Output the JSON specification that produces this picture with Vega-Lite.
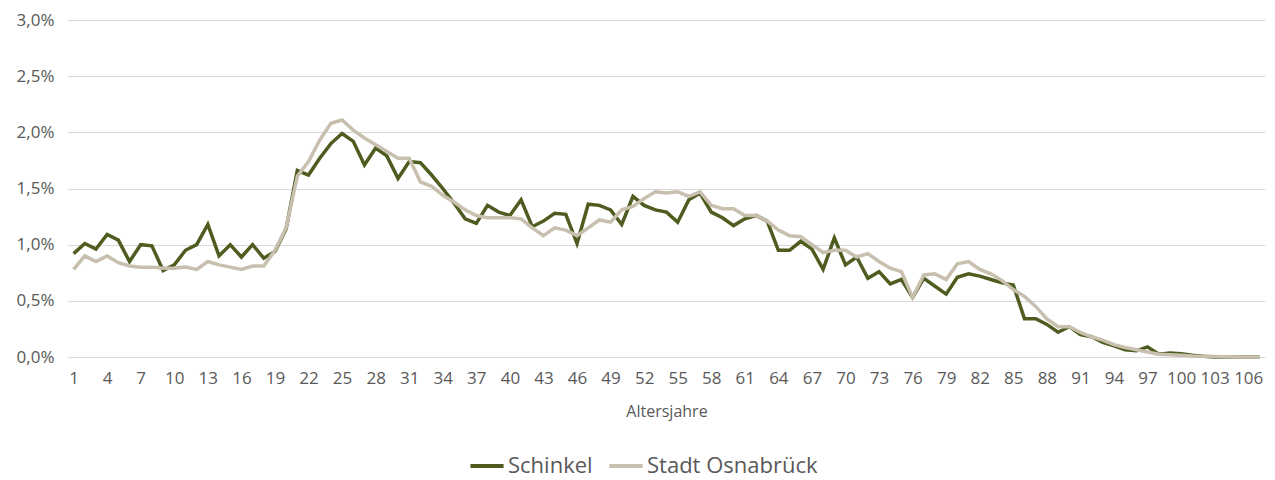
{
  "$schema": "https://vega.github.io/schema/vega-lite/v6.json",
  "autosize": "none",
  "width": 1197,
  "height": 337,
  "padding": {"left": 68, "top": 20, "right": 10, "bottom": 123},
  "background": "white",
  "config": {
    "font": "Open Sans",
    "view": {"stroke": null}
  },
  "data": {
    "values": [
      {"age": 1, "Schinkel": 0.92, "Stadt Osnabrück": 0.78},
      {"age": 2, "Schinkel": 1.01, "Stadt Osnabrück": 0.90},
      {"age": 3, "Schinkel": 0.96, "Stadt Osnabrück": 0.85},
      {"age": 4, "Schinkel": 1.09, "Stadt Osnabrück": 0.90},
      {"age": 5, "Schinkel": 1.04, "Stadt Osnabrück": 0.84},
      {"age": 6, "Schinkel": 0.85, "Stadt Osnabrück": 0.81},
      {"age": 7, "Schinkel": 1.00, "Stadt Osnabrück": 0.80},
      {"age": 8, "Schinkel": 0.99, "Stadt Osnabrück": 0.80},
      {"age": 9, "Schinkel": 0.77, "Stadt Osnabrück": 0.79},
      {"age": 10, "Schinkel": 0.82, "Stadt Osnabrück": 0.79},
      {"age": 11, "Schinkel": 0.95, "Stadt Osnabrück": 0.80},
      {"age": 12, "Schinkel": 1.00, "Stadt Osnabrück": 0.78},
      {"age": 13, "Schinkel": 1.18, "Stadt Osnabrück": 0.85},
      {"age": 14, "Schinkel": 0.90, "Stadt Osnabrück": 0.82},
      {"age": 15, "Schinkel": 1.00, "Stadt Osnabrück": 0.80},
      {"age": 16, "Schinkel": 0.89, "Stadt Osnabrück": 0.78},
      {"age": 17, "Schinkel": 1.00, "Stadt Osnabrück": 0.81},
      {"age": 18, "Schinkel": 0.88, "Stadt Osnabrück": 0.81},
      {"age": 19, "Schinkel": 0.94, "Stadt Osnabrück": 0.95},
      {"age": 20, "Schinkel": 1.14, "Stadt Osnabrück": 1.15},
      {"age": 21, "Schinkel": 1.66, "Stadt Osnabrück": 1.61},
      {"age": 22, "Schinkel": 1.62, "Stadt Osnabrück": 1.74},
      {"age": 23, "Schinkel": 1.77, "Stadt Osnabrück": 1.93},
      {"age": 24, "Schinkel": 1.90, "Stadt Osnabrück": 2.08},
      {"age": 25, "Schinkel": 1.99, "Stadt Osnabrück": 2.11},
      {"age": 26, "Schinkel": 1.92, "Stadt Osnabrück": 2.02},
      {"age": 27, "Schinkel": 1.71, "Stadt Osnabrück": 1.95},
      {"age": 28, "Schinkel": 1.86, "Stadt Osnabrück": 1.89},
      {"age": 29, "Schinkel": 1.79, "Stadt Osnabrück": 1.83},
      {"age": 30, "Schinkel": 1.59, "Stadt Osnabrück": 1.77},
      {"age": 31, "Schinkel": 1.74, "Stadt Osnabrück": 1.77},
      {"age": 32, "Schinkel": 1.73, "Stadt Osnabrück": 1.56},
      {"age": 33, "Schinkel": 1.62, "Stadt Osnabrück": 1.52},
      {"age": 34, "Schinkel": 1.50, "Stadt Osnabrück": 1.44},
      {"age": 35, "Schinkel": 1.37, "Stadt Osnabrück": 1.38},
      {"age": 36, "Schinkel": 1.23, "Stadt Osnabrück": 1.31},
      {"age": 37, "Schinkel": 1.19, "Stadt Osnabrück": 1.26},
      {"age": 38, "Schinkel": 1.35, "Stadt Osnabrück": 1.24},
      {"age": 39, "Schinkel": 1.29, "Stadt Osnabrück": 1.24},
      {"age": 40, "Schinkel": 1.26, "Stadt Osnabrück": 1.24},
      {"age": 41, "Schinkel": 1.40, "Stadt Osnabrück": 1.23},
      {"age": 42, "Schinkel": 1.16, "Stadt Osnabrück": 1.15},
      {"age": 43, "Schinkel": 1.21, "Stadt Osnabrück": 1.08},
      {"age": 44, "Schinkel": 1.28, "Stadt Osnabrück": 1.15},
      {"age": 45, "Schinkel": 1.27, "Stadt Osnabrück": 1.13},
      {"age": 46, "Schinkel": 1.01, "Stadt Osnabrück": 1.08},
      {"age": 47, "Schinkel": 1.36, "Stadt Osnabrück": 1.15},
      {"age": 48, "Schinkel": 1.35, "Stadt Osnabrück": 1.22},
      {"age": 49, "Schinkel": 1.31, "Stadt Osnabrück": 1.20},
      {"age": 50, "Schinkel": 1.18, "Stadt Osnabrück": 1.31},
      {"age": 51, "Schinkel": 1.43, "Stadt Osnabrück": 1.34},
      {"age": 52, "Schinkel": 1.35, "Stadt Osnabrück": 1.41},
      {"age": 53, "Schinkel": 1.31, "Stadt Osnabrück": 1.47},
      {"age": 54, "Schinkel": 1.29, "Stadt Osnabrück": 1.46},
      {"age": 55, "Schinkel": 1.20, "Stadt Osnabrück": 1.47},
      {"age": 56, "Schinkel": 1.40, "Stadt Osnabrück": 1.43},
      {"age": 57, "Schinkel": 1.46, "Stadt Osnabrück": 1.47},
      {"age": 58, "Schinkel": 1.29, "Stadt Osnabrück": 1.35},
      {"age": 59, "Schinkel": 1.24, "Stadt Osnabrück": 1.32},
      {"age": 60, "Schinkel": 1.17, "Stadt Osnabrück": 1.32},
      {"age": 61, "Schinkel": 1.23, "Stadt Osnabrück": 1.26},
      {"age": 62, "Schinkel": 1.26, "Stadt Osnabrück": 1.26},
      {"age": 63, "Schinkel": 1.21, "Stadt Osnabrück": 1.21},
      {"age": 64, "Schinkel": 0.95, "Stadt Osnabrück": 1.13},
      {"age": 65, "Schinkel": 0.95, "Stadt Osnabrück": 1.08},
      {"age": 66, "Schinkel": 1.03, "Stadt Osnabrück": 1.07},
      {"age": 67, "Schinkel": 0.96, "Stadt Osnabrück": 1.00},
      {"age": 68, "Schinkel": 0.78, "Stadt Osnabrück": 0.93},
      {"age": 69, "Schinkel": 1.06, "Stadt Osnabrück": 0.95},
      {"age": 70, "Schinkel": 0.82, "Stadt Osnabrück": 0.95},
      {"age": 71, "Schinkel": 0.89, "Stadt Osnabrück": 0.89},
      {"age": 72, "Schinkel": 0.70, "Stadt Osnabrück": 0.92},
      {"age": 73, "Schinkel": 0.76, "Stadt Osnabrück": 0.85},
      {"age": 74, "Schinkel": 0.65, "Stadt Osnabrück": 0.79},
      {"age": 75, "Schinkel": 0.69, "Stadt Osnabrück": 0.76},
      {"age": 76, "Schinkel": 0.53, "Stadt Osnabrück": 0.53},
      {"age": 77, "Schinkel": 0.70, "Stadt Osnabrück": 0.73},
      {"age": 78, "Schinkel": 0.63, "Stadt Osnabrück": 0.74},
      {"age": 79, "Schinkel": 0.56, "Stadt Osnabrück": 0.69},
      {"age": 80, "Schinkel": 0.71, "Stadt Osnabrück": 0.83},
      {"age": 81, "Schinkel": 0.74, "Stadt Osnabrück": 0.85},
      {"age": 82, "Schinkel": 0.72, "Stadt Osnabrück": 0.78},
      {"age": 83, "Schinkel": 0.69, "Stadt Osnabrück": 0.74},
      {"age": 84, "Schinkel": 0.66, "Stadt Osnabrück": 0.68},
      {"age": 85, "Schinkel": 0.64, "Stadt Osnabrück": 0.60},
      {"age": 86, "Schinkel": 0.34, "Stadt Osnabrück": 0.54},
      {"age": 87, "Schinkel": 0.34, "Stadt Osnabrück": 0.45},
      {"age": 88, "Schinkel": 0.29, "Stadt Osnabrück": 0.34},
      {"age": 89, "Schinkel": 0.22, "Stadt Osnabrück": 0.27},
      {"age": 90, "Schinkel": 0.27, "Stadt Osnabrück": 0.27},
      {"age": 91, "Schinkel": 0.20, "Stadt Osnabrück": 0.22},
      {"age": 92, "Schinkel": 0.18, "Stadt Osnabrück": 0.18},
      {"age": 93, "Schinkel": 0.13, "Stadt Osnabrück": 0.15},
      {"age": 94, "Schinkel": 0.10, "Stadt Osnabrück": 0.11},
      {"age": 95, "Schinkel": 0.065, "Stadt Osnabrück": 0.085},
      {"age": 96, "Schinkel": 0.055, "Stadt Osnabrück": 0.065},
      {"age": 97, "Schinkel": 0.09, "Stadt Osnabrück": 0.045},
      {"age": 98, "Schinkel": 0.025, "Stadt Osnabrück": 0.025},
      {"age": 99, "Schinkel": 0.035, "Stadt Osnabrück": 0.02},
      {"age": 100, "Schinkel": 0.03, "Stadt Osnabrück": 0.015},
      {"age": 101, "Schinkel": 0.015, "Stadt Osnabrück": 0.009},
      {"age": 102, "Schinkel": 0.006, "Stadt Osnabrück": 0.006},
      {"age": 103, "Schinkel": 0, "Stadt Osnabrück": 0.004},
      {"age": 104, "Schinkel": 0, "Stadt Osnabrück": 0.002},
      {"age": 105, "Schinkel": 0, "Stadt Osnabrück": 0.001},
      {"age": 106, "Schinkel": 0, "Stadt Osnabrück": 0.001},
      {"age": 107, "Schinkel": 0, "Stadt Osnabrück": 0.001}
    ]
  },
  "transform": [{"fold": ["Schinkel", "Stadt Osnabrück"], "as": ["Gebiet", "Anteil"]}],
  "mark": {"type": "line", "strokeWidth": 3.5, "strokeJoin": "miter", "strokeCap": "butt"},
  "encoding": {
    "x": {
      "field": "age",
      "type": "quantitative",
      "scale": {"domain": [0.5, 107.5], "nice": false, "zero": false},
      "axis": {
        "title": "Altersjahre",
        "values": [1, 4, 7, 10, 13, 16, 19, 22, 25, 28, 31, 34, 37, 40, 43, 46, 49, 52, 55, 58, 61, 64, 67, 70, 73, 76, 79, 82, 85, 88, 91, 94, 97, 100, 103, 106],
        "grid": false,
        "domain": false,
        "ticks": false,
        "labelOverlap": false,
        "labelFlush": false,
        "labelPadding": 13,
        "labelFontSize": 17,
        "labelColor": "#595959",
        "labelFont": "Open Sans",
        "titleFont": "Open Sans",
        "titleFontSize": 16,
        "titleFontWeight": "normal",
        "titleColor": "#595959",
        "titlePadding": 17
      }
    },
    "y": {
      "field": "Anteil",
      "type": "quantitative",
      "scale": {"domain": [0, 3], "nice": false},
      "axis": {
        "title": null,
        "values": [0, 0.5, 1, 1.5, 2, 2.5, 3],
        "labelExpr": "replace(format(datum.value, '.1f'), '.', ',') + '%'",
        "domain": false,
        "ticks": false,
        "gridColor": "#d9d9d9",
        "gridWidth": 1.2,
        "labelPadding": 14,
        "labelFontSize": 17,
        "labelColor": "#595959",
        "labelFont": "Open Sans"
      }
    },
    "color": {
      "field": "Gebiet",
      "type": "nominal",
      "scale": {"domain": ["Schinkel", "Stadt Osnabrück"], "range": ["#4e5c1f", "#c8bfae"]},
      "legend": {
        "title": null,
        "orient": "none",
        "direction": "horizontal",
        "legendX": 400,
        "legendY": 427,
        "symbolType": "stroke",
        "symbolSize": 1100,
        "symbolStrokeWidth": 4,
        "symbolOffset": 0,
        "labelOffset": 2,
        "labelLimit": 400,
        "columnPadding": 8,
        "labelFontSize": 22,
        "labelFont": "Open Sans",
        "labelColor": "#595959"
      }
    }
  }
}
